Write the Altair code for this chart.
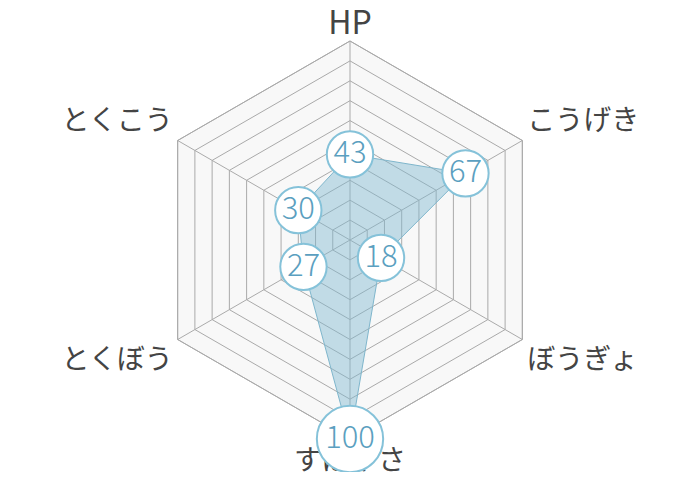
import math
import altair as alt
import pandas as pd

# ---- data ----
categories = ["HP", "こうげき", "ぼうぎょ", "すばやさ", "とくぼう", "とくこう"]
values = [43, 67, 18, 100, 27, 30]
grid_levels = [10, 20, 30, 40, 50, 60, 70, 80, 90, 100]
max_value = 100

# ---- layout constants ----
W, H = 684, 464
R_PX = 199.0
ux = (W / 2) / R_PX * max_value
uy = (H / 2) / R_PX * max_value
FONT = "Noto Sans CJK JP"

n = len(categories)
df = pd.DataFrame({
    "cat": categories,
    "value": values,
    "idx": list(range(n)),
})
df["big"] = [v >= 100 for v in values]

grid_rows = []
for lv in grid_levels:
    for i, c in enumerate(categories):
        grid_rows.append({"level": lv, "idx": i, "cat": c})
grid_df = pd.DataFrame(grid_rows)

spoke_df = pd.DataFrame({"cat": categories, "idx": list(range(n)), "r": [max_value] * n})

xs = alt.Scale(domain=[-ux, ux], nice=False, zero=False)
ys = alt.Scale(domain=[-uy, uy], nice=False, zero=False)

ang = "datum.idx * 2 * PI / %d" % n

X = alt.X("px:Q", scale=xs, axis=None)
Y = alt.Y("py:Q", scale=ys, axis=None)

base_grid = alt.Chart(grid_df)
bg = base_grid.transform_filter("datum.level == %d" % max_value).transform_calculate(
    px="datum.level * sin(%s)" % ang, py="datum.level * cos(%s)" % ang
).mark_line(interpolate="linear-closed", fill="#f8f8f8", stroke="#aaaaaa", strokeWidth=1).encode(
    x=X, y=Y, order=alt.Order("idx:Q")
)

rings = base_grid.transform_calculate(
    px="datum.level * sin(%s)" % ang, py="datum.level * cos(%s)" % ang
).mark_line(interpolate="linear-closed", stroke="#aaaaaa", strokeWidth=1).encode(
    x=X, y=Y, detail="level:N", order=alt.Order("idx:Q")
)

spokes = alt.Chart(spoke_df).transform_calculate(
    px="datum.r * sin(%s)" % ang, py="datum.r * cos(%s)" % ang, zx="0", zy="0"
).mark_rule(stroke="#aaaaaa", strokeWidth=1).encode(
    x=alt.X("zx:Q", scale=xs, axis=None), y=alt.Y("zy:Q", scale=ys, axis=None),
    x2="px:Q", y2="py:Q"
)

base = alt.Chart(df).transform_calculate(
    px="datum.value * sin(%s)" % ang, py="datum.value * cos(%s)" % ang
)

poly = base.mark_line(
    interpolate="linear-closed", fill="#7fb8d0", fillOpacity=0.45,
    stroke="#7fb6cc", strokeWidth=1
).encode(x=X, y=Y, order=alt.Order("idx:Q"))

# label offset (data units) beyond the outer vertex, by direction
off = ("(cos(A) > 0.9 ? 8.5 : (cos(A) < -0.9 ? -11.8 : (cos(A) > 0 ? 9.4 : -10.6)))").replace("A", ang)
lab_base = alt.Chart(spoke_df).transform_calculate(
    px="datum.r * sin(%s)" % ang,
    py="datum.r * cos(%s) + %s" % (ang, off),
)
lab_kw = dict(font=FONT, color="#444444", baseline="middle")
lab_size = alt.condition("datum.cat == 'HP'", alt.value(32), alt.value(28))
lab_center = lab_base.transform_filter("abs(sin(%s)) < 0.1" % ang).mark_text(align="center", **lab_kw).encode(
    x=X, y=Y, text="cat:N", size=lab_size)
lab_right = lab_base.transform_filter("sin(%s) > 0.1" % ang).mark_text(align="left", dx=5, **lab_kw).encode(
    x=X, y=Y, text="cat:N", size=lab_size)
lab_left = lab_base.transform_filter("sin(%s) < -0.1" % ang).mark_text(align="right", dx=-5, **lab_kw).encode(
    x=X, y=Y, text="cat:N", size=lab_size)

circles = base.mark_point(shape="circle", filled=True, fill="white", stroke="#85c2d9",
                          strokeWidth=2, opacity=1).encode(
    x=X, y=Y,
    size=alt.Size("big:N", scale=alt.Scale(domain=[False, True], range=[2150, 4400]), legend=None),
)

nums = base.mark_text(font=FONT, fontSize=31, fontWeight=300, color="#5b9fc0",
                      baseline="middle", align="center").encode(
    x=X, y=Y, text="value:Q"
)

chart = alt.layer(bg, rings, spokes, poly, lab_center, lab_right, lab_left, circles, nums).properties(
    width=W, height=H, autosize=alt.AutoSizeParams(type="none"), padding=0
).configure_view(stroke=None)

chart.save("out.html", embed_options={"renderer": "svg", "actions": False})
